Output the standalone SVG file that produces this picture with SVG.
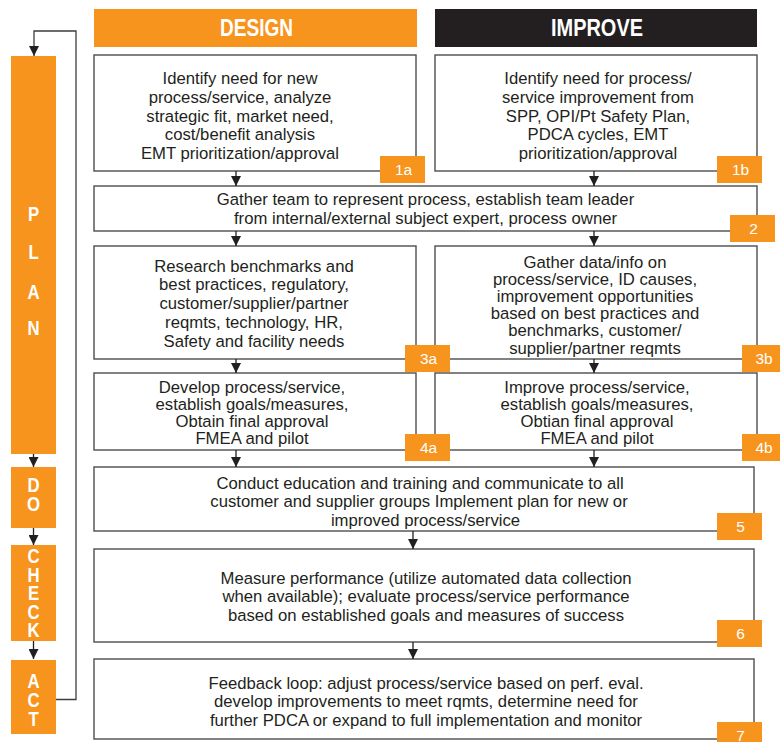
<svg xmlns="http://www.w3.org/2000/svg" width="780" height="742" viewBox="0 0 780 742">
  <defs>
    <marker id="arrow" viewBox="0 0 10 10" refX="10" refY="5" markerWidth="10" markerHeight="10" markerUnits="userSpaceOnUse" orient="auto">
      <path d="M0,0 L10,5 L0,10 Z" fill="#231f20"/>
    </marker>
    <style>
      .box { fill: #ffffff; stroke: #4d4d4d; stroke-width: 1.4; }
      .bar { fill: #f7941e; }
      .badge { fill: #f7941e; }
      .badge-t { font-family: "Liberation Sans", Arial, sans-serif; font-size: 15.5px; fill: #ffffff; text-anchor: middle; }
      .body { font-family: "Liberation Sans", Arial, sans-serif; font-size: 16.7px; fill: #231f20; text-anchor: middle; }
      .head { font-family: "Liberation Sans", Arial, sans-serif; font-size: 23.5px; font-weight: bold; fill: #ffffff; text-anchor: middle; }
      .pdca { font-family: "Liberation Sans", Arial, sans-serif; font-size: 21px; font-weight: bold; fill: #ffffff; text-anchor: middle; }
      .link { fill: none; stroke: #231f20; stroke-width: 1.3; marker-end: url(#arrow); }
      .loop { fill: none; stroke: #3d3d3d; stroke-width: 1.3; marker-end: url(#arrow); }
    </style>
  </defs>

  <!-- column headers -->
  <g id="header-design">
    <rect x="94" y="9" width="323" height="38" fill="#f7941e"/>
    <text class="head" x="256.5" y="35.5" textLength="73" lengthAdjust="spacingAndGlyphs">DESIGN</text>
  </g>
  <g id="header-improve">
    <rect x="435" y="9" width="322" height="38" fill="#231f20"/>
    <text class="head" x="597" y="35.5" textLength="92" lengthAdjust="spacingAndGlyphs">IMPROVE</text>
  </g>

  <!-- PDCA side bar: stacked, horizontally condensed letters -->
  <g id="plan">
    <rect class="bar" x="11" y="56" width="45" height="398"/>
    <text class="pdca" transform="translate(33.5,0) scale(0.8,1)"><tspan x="0" y="221">P</tspan><tspan x="0" y="259">L</tspan><tspan x="0" y="299">A</tspan><tspan x="0" y="335">N</tspan></text>
  </g>
  <g id="do">
    <rect class="bar" x="11" y="467" width="45" height="61"/>
    <text class="pdca" transform="translate(33.5,0) scale(0.8,1)"><tspan x="0" y="492.5">D</tspan><tspan x="0" y="511.5">O</tspan></text>
  </g>
  <g id="check">
    <rect class="bar" x="11" y="545" width="45" height="96"/>
    <text class="pdca" transform="translate(33.5,0) scale(0.8,1)"><tspan x="0" y="563.5">C</tspan><tspan x="0" y="582">H</tspan><tspan x="0" y="600.5">E</tspan><tspan x="0" y="619">C</tspan><tspan x="0" y="637.5">K</tspan></text>
  </g>
  <g id="act">
    <rect class="bar" x="11" y="660" width="45" height="74"/>
    <text class="pdca" transform="translate(33.5,0) scale(0.8,1)"><tspan x="0" y="688">A</tspan><tspan x="0" y="707">C</tspan><tspan x="0" y="726">T</tspan></text>
  </g>

  <!-- step 1a -->
  <g id="step-1a">
    <rect class="box" x="94" y="55" width="322" height="116"/>
    <text class="body" x="240" y="84.3">Identify need for new</text>
    <text class="body" x="240" y="103">process/service, analyze</text>
    <text class="body" x="240" y="121.7">strategic fit, market need,</text>
    <text class="body" x="240" y="140.3">cost/benefit analysis</text>
    <text class="body" x="240" y="159">EMT prioritization/approval</text>
    <rect class="badge" x="380" y="156" width="45" height="27"/>
    <text class="badge-t" x="403.5" y="175">1a</text>
  </g>

  <!-- step 1b -->
  <g id="step-1b">
    <rect class="box" x="435" y="55" width="322" height="116"/>
    <text class="body" x="598" y="84.3">Identify need for process/</text>
    <text class="body" x="598" y="103">service improvement from</text>
    <text class="body" x="598" y="121.7">SPP, OPI/Pt Safety Plan,</text>
    <text class="body" x="598" y="140.3">PDCA cycles, EMT</text>
    <text class="body" x="598" y="159">prioritization/approval</text>
    <rect class="badge" x="717" y="156" width="45" height="27"/>
    <text class="badge-t" x="740.5" y="175">1b</text>
  </g>

  <!-- step 2 -->
  <g id="step-2">
    <rect class="box" x="94" y="186" width="663" height="45"/>
    <text class="body" x="425.5" y="205">Gather team to represent process, establish team leader</text>
    <text class="body" x="425.5" y="224">from internal/external subject expert, process owner</text>
    <rect class="badge" x="730" y="215" width="45" height="27"/>
    <text class="badge-t" x="753.5" y="234">2</text>
  </g>

  <!-- step 3b (drawn first so the 3a badge sits over its left edge) -->
  <g id="step-3b">
    <rect class="box" x="435" y="246" width="322" height="113"/>
    <text class="body" x="595" y="267.7">Gather data/info on</text>
    <text class="body" x="595" y="284.8">process/service, ID causes,</text>
    <text class="body" x="595" y="302">improvement opportunities</text>
    <text class="body" x="595" y="319.2">based on best practices and</text>
    <text class="body" x="595" y="336.4">benchmarks, customer/</text>
    <text class="body" x="595" y="353.5">supplier/partner reqmts</text>
    <rect class="badge" x="742" y="345" width="45" height="27"/>
    <text class="badge-t" x="764" y="364">3b</text>
  </g>

  <!-- step 3a -->
  <g id="step-3a">
    <rect class="box" x="94" y="246" width="322" height="113"/>
    <text class="body" x="254" y="271.5">Research benchmarks and</text>
    <text class="body" x="254" y="290.3">best practices, regulatory,</text>
    <text class="body" x="254" y="309">customer/supplier/partner</text>
    <text class="body" x="254" y="327.9">reqmts, technology, HR,</text>
    <text class="body" x="254" y="346.7">Safety and facility needs</text>
    <rect class="badge" x="405" y="345" width="45" height="27"/>
    <text class="badge-t" x="428.5" y="364">3a</text>
  </g>

  <!-- step 4b (drawn first so the 4a badge sits over its left edge) -->
  <g id="step-4b">
    <rect class="box" x="435" y="373" width="322" height="77"/>
    <text class="body" x="597" y="392.5">Improve process/service,</text>
    <text class="body" x="597" y="409.8">establish goals/measures,</text>
    <text class="body" x="597" y="427">Obtian final approval</text>
    <text class="body" x="597" y="444.3">FMEA and pilot</text>
    <rect class="badge" x="742" y="434" width="45" height="27"/>
    <text class="badge-t" x="764" y="453">4b</text>
  </g>

  <!-- step 4a -->
  <g id="step-4a">
    <rect class="box" x="94" y="373" width="322" height="77"/>
    <text class="body" x="252" y="392.5">Develop process/service,</text>
    <text class="body" x="252" y="409.8">establish goals/measures,</text>
    <text class="body" x="252" y="427">Obtain final approval</text>
    <text class="body" x="252" y="444.3">FMEA and pilot</text>
    <rect class="badge" x="405" y="434" width="45" height="27"/>
    <text class="badge-t" x="428.5" y="453">4a</text>
  </g>

  <!-- step 5 -->
  <g id="step-5">
    <rect class="box" x="94" y="467" width="660" height="64"/>
    <text class="body" x="420" y="488.5">Conduct education and training and communicate to all</text>
    <text class="body" x="419" y="507">customer and supplier groups Implement plan for new or</text>
    <text class="body" x="425.5" y="525.5">improved process/service</text>
    <rect class="badge" x="717" y="513" width="45" height="27"/>
    <text class="badge-t" x="740.5" y="532">5</text>
  </g>

  <!-- step 6 -->
  <g id="step-6">
    <rect class="box" x="94" y="549" width="660" height="93"/>
    <text class="body" x="426" y="584">Measure performance (utilize automated data collection</text>
    <text class="body" x="426" y="602.3">when available); evaluate process/service performance</text>
    <text class="body" x="426" y="620.7">based on established goals and measures of success</text>
    <rect class="badge" x="717" y="620" width="45" height="27"/>
    <text class="badge-t" x="740.5" y="639">6</text>
  </g>

  <!-- step 7 -->
  <g id="step-7">
    <rect class="box" x="94" y="659" width="660" height="80"/>
    <text class="body" x="426" y="689">Feedback loop: adjust process/service based on perf. eval.</text>
    <text class="body" x="426" y="707.3">develop improvements to meet rqmts, determine need for</text>
    <text class="body" x="426" y="725.7">further PDCA or expand to full implementation and monitor</text>
    <rect class="badge" x="717" y="722" width="45" height="27"/>
    <text class="badge-t" x="740.5" y="740.5">7</text>
  </g>

  <!-- connectors -->
  <g id="connectors">
    <line class="link" x1="236" y1="171" x2="236" y2="186"/>
    <line class="link" x1="594" y1="171" x2="594" y2="186"/>
    <line class="link" x1="236" y1="231" x2="236" y2="246"/>
    <line class="link" x1="594" y1="231" x2="594" y2="246"/>
    <line class="link" x1="236" y1="359" x2="236" y2="373"/>
    <line class="link" x1="594" y1="359" x2="594" y2="373"/>
    <line class="link" x1="236" y1="450" x2="236" y2="467"/>
    <line class="link" x1="594" y1="450" x2="594" y2="467"/>
    <line class="link" x1="413" y1="531" x2="413" y2="549"/>
    <line class="link" x1="413" y1="642" x2="413" y2="659"/>
    <line class="link" x1="33.5" y1="454" x2="33.5" y2="467"/>
    <line class="link" x1="33.5" y1="528" x2="33.5" y2="545"/>
    <line class="link" x1="33.5" y1="641" x2="33.5" y2="659"/>
    <polyline class="loop" points="56,699.5 76,699.5 76,31 34,31 34,56"/>
  </g>
</svg>
